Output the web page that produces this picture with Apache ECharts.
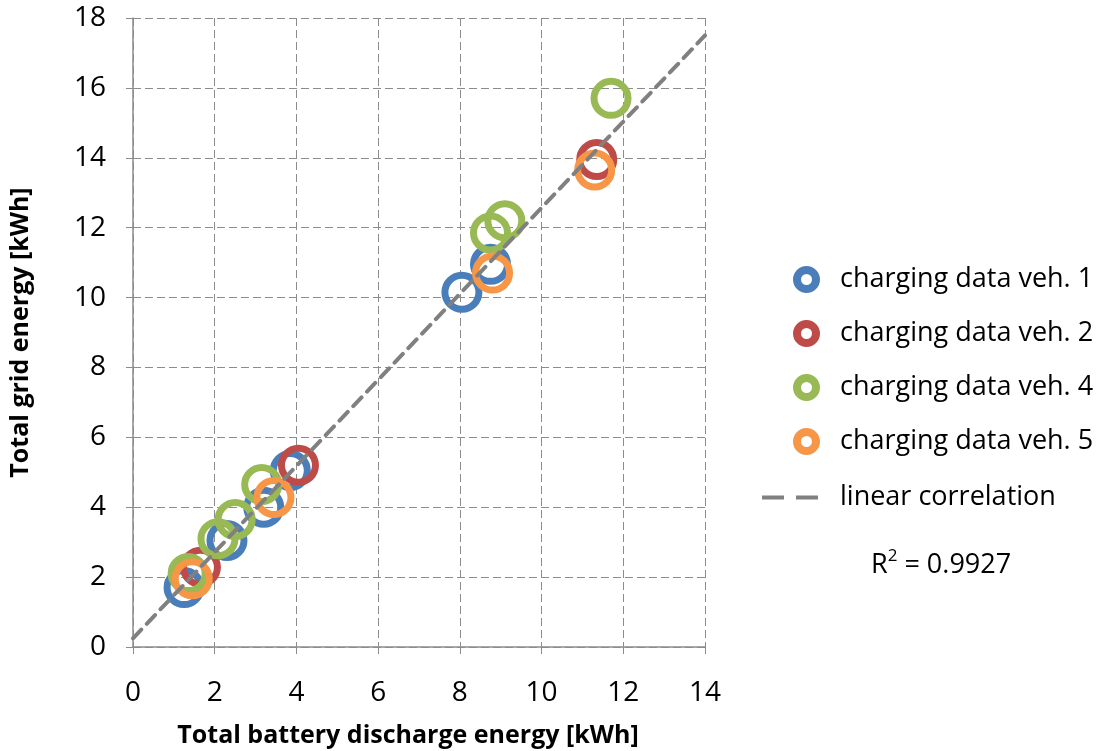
<!DOCTYPE html>
<html>
<head>
<meta charset="utf-8">
<script src="https://cdn.jsdelivr.net/npm/echarts@6/dist/echarts.min.js"></script>
<style>
html,body{margin:0;padding:0;background:#fff;}
#chart{width:1115px;height:751px;}
</style>
</head>
<body>
<div id="chart"></div>
<script>
// ---- data ----
const veh1 = [[1.25,1.7],[2.3,3.05],[3.2,4.0],[3.85,5.05],[8.05,10.15],[8.75,10.95]];
const veh2 = [[1.65,2.28],[4.05,5.2],[11.35,13.95]];
const veh4 = [[1.35,2.1],[2.08,3.1],[2.5,3.65],[3.15,4.65],[8.75,11.85],[9.1,12.2],[11.7,15.7]];
const veh5 = [[1.45,1.95],[3.45,4.28],[8.8,10.7],[11.3,13.65]];
const trendX = [0, 14];
const trendY = [0.25, 17.5];
const seriesNames = ['charging data veh. 1','charging data veh. 2','charging data veh. 4','charging data veh. 5'];
const lineName = 'linear correlation';
const r2Value = '0.9927';
const xTitle = 'Total battery discharge energy [kWh]';
const yTitle = 'Total grid energy [kWh]';

const colors = ['#4A7EBB','#BE4B48','#98B954','#F79646'];
const FONT = 'Open Sans';

const chart = echarts.init(document.getElementById('chart'), null, {renderer:'canvas'});

function scatter(name, data, color){
  return {
    name: name, type:'scatter', data: data,
    symbol:'circle', symbolSize: 34,
    itemStyle:{color:'rgba(0,0,0,0)', borderColor: color, borderWidth: 7, opacity:1},
    emphasis:{disabled:true}
  };
}

const option = {
  animation:false,
  backgroundColor:'#fff',
  grid:{left:133, right:410, top:18, bottom:104, containLabel:false, outerBoundsMode:'none'},
  xAxis:{
    type:'value', min:0, max:14, interval:2,
    name: xTitle, nameLocation:'middle', nameGap:76,
    nameTextStyle:{fontFamily:FONT, fontWeight:'bold', fontSize:25, color:'#000', padding:[0,22,0,0]},
    axisLine:{show:true, onZero:false, lineStyle:{color:'#8c8c8c', width:1.5}},
    axisTick:{show:true, length:7, lineStyle:{color:'#8c8c8c'}},
    axisLabel:{fontFamily:FONT, fontSize:28, color:'#000', margin:32},
    splitLine:{show:true, lineStyle:{color:'#8c8c8c', type:[8,4], width:1}}
  },
  yAxis:{
    type:'value', min:0, max:18, interval:2,
    name: yTitle, nameLocation:'middle', nameGap:100, nameRotate:90,
    nameTextStyle:{fontFamily:FONT, fontWeight:'bold', fontSize:25, color:'#000'},
    axisLine:{show:true, onZero:false, lineStyle:{color:'#8c8c8c', width:1.5}},
    axisTick:{show:true, length:7, lineStyle:{color:'#8c8c8c'}},
    axisLabel:{fontFamily:FONT, fontSize:28, color:'#000', margin:27},
    splitLine:{show:true, lineStyle:{color:'#8c8c8c', type:[8,4], width:1}}
  },
  legend:[
    {
      orient:'vertical', left:788, top:261, itemWidth:19, itemHeight:19, itemGap:27,
      selectedMode:false,
      data: seriesNames.map((n,i)=>({name:n, icon:'circle',
        itemStyle:{color:'#fff', borderColor:colors[i], borderWidth:8}})),
      textStyle:{fontFamily:FONT, fontSize:27, color:'#000', lineHeight:27, padding:[0,0,0,19]}
    },
    {
      orient:'vertical', left:757, top:479, itemWidth:56, itemHeight:27,
      selectedMode:false,
      data:[{name:lineName,
        icon:'path://M0,0M0,11.5h22v4h-22zM34,11.5h22v4h-22zM56,27',
        itemStyle:{color:'#808080', borderWidth:0}}],
      textStyle:{fontFamily:FONT, fontSize:27, color:'#000', lineHeight:27, padding:[0,0,0,17]}
    }
  ],
  graphic:[{
    type:'text', left:871, top:548,
    style:{
      text:'{a|R}{s|2}{a| = ' + r2Value + '}',
      rich:{
        a:{fontFamily:FONT, fontSize:27, fill:'#000', color:'#000', lineHeight:34},
        s:{fontFamily:FONT, fontSize:17, fill:'#000', color:'#000', lineHeight:34, verticalAlign:'top'}
      }
    }
  }],
  series:[
    scatter(seriesNames[0], veh1, colors[0]),
    scatter(seriesNames[1], veh2, colors[1]),
    scatter(seriesNames[2], veh4, colors[2]),
    scatter(seriesNames[3], veh5, colors[3]),
    {
      name: lineName, type:'line',
      data: trendX.map((x,i)=>[x, trendY[i]]),
      showSymbol:false, symbol:'none', z:5,
      lineStyle:{color:'#808080', width:4, type:[12,8], cap:'round'},
      itemStyle:{color:'#808080'},
      emphasis:{disabled:true}
    }
  ]
};
chart.setOption(option);
</script>
</body>
</html>
